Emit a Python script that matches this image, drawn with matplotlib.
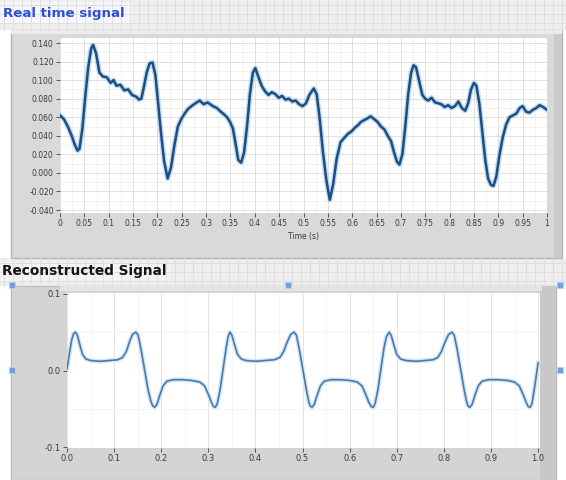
import matplotlib
matplotlib.use('Agg')
import matplotlib.pyplot as plt
from matplotlib.patches import Rectangle
from matplotlib.ticker import MultipleLocator, FuncFormatter

# real time signal
rt_time = [0.000, 0.008, 0.016, 0.024, 0.030, 0.036, 0.040, 0.046, 0.052, 0.058,
           0.064, 0.068, 0.074, 0.081, 0.088, 0.096, 0.104, 0.110, 0.116, 0.124,
           0.132, 0.140, 0.148, 0.157, 0.162, 0.167, 0.172, 0.178, 0.184, 0.190,
           0.196, 0.202, 0.208, 0.214, 0.221, 0.228, 0.235, 0.242, 0.249, 0.256,
           0.263, 0.270, 0.278, 0.287, 0.295, 0.303, 0.314, 0.322, 0.330, 0.337,
           0.343, 0.349, 0.355, 0.361, 0.366, 0.372, 0.378, 0.384, 0.390, 0.396,
           0.401, 0.407, 0.414, 0.421, 0.428, 0.435, 0.442, 0.449, 0.456, 0.463,
           0.470, 0.477, 0.484, 0.491, 0.498, 0.505, 0.512, 0.521, 0.527, 0.533,
           0.540, 0.547, 0.554, 0.561, 0.568, 0.576, 0.584, 0.591, 0.599, 0.606,
           0.611, 0.618, 0.625, 0.632, 0.638, 0.645, 0.652, 0.659, 0.666, 0.673,
           0.680, 0.686, 0.692, 0.697, 0.703, 0.709, 0.715, 0.721, 0.726, 0.731,
           0.737, 0.744, 0.750, 0.756, 0.763, 0.770, 0.777, 0.783, 0.790, 0.797,
           0.804, 0.811, 0.818, 0.825, 0.832, 0.838, 0.844, 0.850, 0.855, 0.861,
           0.867, 0.873, 0.879, 0.885, 0.890, 0.896, 0.902, 0.909, 0.916, 0.923,
           0.930, 0.937, 0.944, 0.950, 0.957, 0.964, 0.971, 0.978, 0.985, 0.992,
           1.000]
rt_value = [0.062, 0.058, 0.050, 0.040, 0.031, 0.024, 0.026, 0.048, 0.083, 0.114,
            0.134, 0.138, 0.129, 0.108, 0.104, 0.103, 0.097, 0.100, 0.094, 0.095,
            0.089, 0.090, 0.084, 0.082, 0.079, 0.080, 0.092, 0.108, 0.118, 0.119,
            0.105, 0.072, 0.040, 0.012, -0.006, 0.006, 0.030, 0.050, 0.058, 0.064,
            0.069, 0.072, 0.075, 0.078, 0.074, 0.076, 0.072, 0.070, 0.066, 0.063,
            0.060, 0.055, 0.048, 0.030, 0.014, 0.011, 0.022, 0.050, 0.085, 0.108,
            0.113, 0.104, 0.094, 0.088, 0.084, 0.087, 0.085, 0.081, 0.083, 0.079,
            0.080, 0.077, 0.078, 0.074, 0.072, 0.075, 0.084, 0.091, 0.085, 0.060,
            0.022, -0.008, -0.029, -0.012, 0.015, 0.033, 0.038, 0.042, 0.045, 0.049,
            0.051, 0.055, 0.057, 0.059, 0.061, 0.058, 0.055, 0.050, 0.047, 0.040,
            0.034, 0.022, 0.012, 0.009, 0.020, 0.050, 0.085, 0.108, 0.116, 0.114,
            0.100, 0.084, 0.080, 0.078, 0.081, 0.076, 0.075, 0.074, 0.071, 0.073,
            0.070, 0.072, 0.077, 0.070, 0.067, 0.075, 0.090, 0.097, 0.094, 0.075,
            0.045, 0.015, -0.006, -0.013, -0.014, -0.004, 0.018, 0.038, 0.052, 0.060,
            0.062, 0.064, 0.070, 0.072, 0.066, 0.065, 0.068, 0.070, 0.073, 0.071,
            0.068]

# reconstructed signal (bottom graph)
rc_time = [0.000, 0.005, 0.010, 0.014, 0.018, 0.022, 0.027, 0.033, 0.040, 0.050,
           0.070, 0.090, 0.108, 0.118, 0.126, 0.133, 0.139, 0.146, 0.151, 0.157,
           0.165, 0.172, 0.178, 0.182, 0.186, 0.191, 0.197, 0.204, 0.212, 0.225,
           0.245, 0.265, 0.282, 0.292, 0.300, 0.307, 0.311, 0.315, 0.319, 0.325,
           0.332, 0.338, 0.342, 0.346, 0.350, 0.356, 0.362, 0.370, 0.380, 0.400,
           0.420, 0.440, 0.452, 0.460, 0.468, 0.475, 0.482, 0.487, 0.493, 0.501,
           0.508, 0.513, 0.516, 0.520, 0.525, 0.531, 0.538, 0.546, 0.560, 0.580,
           0.600, 0.616, 0.626, 0.634, 0.641, 0.646, 0.650, 0.654, 0.660, 0.667,
           0.673, 0.678, 0.684, 0.688, 0.694, 0.700, 0.708, 0.720, 0.740, 0.760,
           0.777, 0.787, 0.795, 0.803, 0.810, 0.817, 0.822, 0.828, 0.836, 0.843,
           0.848, 0.851, 0.855, 0.860, 0.866, 0.873, 0.881, 0.895, 0.915, 0.935,
           0.950, 0.960, 0.968, 0.975, 0.979, 0.983, 0.987, 0.993, 1.000]
rc_value = [0.002, 0.022, 0.040, 0.048, 0.050, 0.046, 0.034, 0.021, 0.015, 0.013,
            0.012, 0.013, 0.014, 0.017, 0.025, 0.038, 0.047, 0.050, 0.046, 0.028,
            0.000, -0.025, -0.040, -0.046, -0.048, -0.044, -0.032, -0.020, -0.014, -0.012,
            -0.012, -0.013, -0.015, -0.020, -0.031, -0.042, -0.047, -0.048, -0.043, -0.025,
            0.005, 0.030, 0.044, 0.050, 0.046, 0.033, 0.021, 0.015, 0.013, 0.012,
            0.013, 0.014, 0.017, 0.025, 0.038, 0.047, 0.050, 0.046, 0.028, 0.000,
            -0.025, -0.040, -0.046, -0.048, -0.044, -0.032, -0.020, -0.014, -0.012, -0.012,
            -0.013, -0.015, -0.020, -0.031, -0.042, -0.047, -0.048, -0.043, -0.025, 0.005,
            0.030, 0.044, 0.050, 0.046, 0.033, 0.021, 0.015, 0.013, 0.012, 0.013,
            0.014, 0.017, 0.025, 0.038, 0.047, 0.050, 0.046, 0.028, 0.000, -0.025,
            -0.040, -0.046, -0.048, -0.044, -0.032, -0.020, -0.014, -0.012, -0.012, -0.013,
            -0.015, -0.020, -0.031, -0.042, -0.047, -0.048, -0.043, -0.020, 0.010]

rt_xticks = [0, 0.05, 0.1, 0.15, 0.2, 0.25, 0.3, 0.35, 0.4, 0.45, 0.5,
             0.55, 0.6, 0.65, 0.7, 0.75, 0.8, 0.85, 0.9, 0.95, 1]
rt_yticks = [-0.04, -0.02, 0.0, 0.02, 0.04, 0.06, 0.08, 0.1, 0.12, 0.14]
rc_xticks = [0.0, 0.1, 0.2, 0.3, 0.4, 0.5, 0.6, 0.7, 0.8, 0.9, 1.0]
rc_yticks = [-0.1, 0.0, 0.1]

W, H = 566, 480
fig = plt.figure(figsize=(W / 100, H / 100), dpi=100)
fig.patch.set_facecolor('white')


def box(x0, y0, x1, y1):
    # pixel box -> figure fraction [left, bottom, width, height]
    return [x0 / W, 1 - y1 / H, (x1 - x0) / W, (y1 - y0) / H]


# background: panels and the front-panel grid
bg = fig.add_axes([0, 0, 1, 1], zorder=-5)
bg.set_xlim(0, W)
bg.set_ylim(H, 0)
bg.axis('off')
for y0, y1 in [(0, 30), (258, 286)]:
    bg.add_patch(Rectangle((0, y0), W, y1 - y0, color='#eeeeee', lw=0))
    for gx in range(4, W, 9):
        bg.plot([gx, gx], [y0, y1], color='#dcdcdc', lw=0.6)
    for gy in range(y0 + 5, y1, 9):
        bg.plot([0, W], [gy, gy], color='#dcdcdc', lw=0.6)
bg.add_patch(Rectangle((0, 2), 132, 22, color='#f6f6fb', lw=0))
bg.add_patch(Rectangle((0, 262), 170, 20, color='#f3f3f3', lw=0))
# top panel
bg.add_patch(Rectangle((11, 30), 551, 228, facecolor='#d9d9d9', edgecolor='#b4b4b4', lw=1))
bg.add_patch(Rectangle((11, 30), 551, 4, color='#ececec', lw=0))
bg.add_patch(Rectangle((554, 34), 8, 224, color='#cacaca', lw=0))
# bottom panel
bg.add_patch(Rectangle((11, 286), 545, 194, facecolor='#d4d4d4', edgecolor='#bdbdbd', lw=1))
bg.add_patch(Rectangle((540, 286), 16, 194, color='#c8c8c8', lw=0))
bg.add_patch(Rectangle((60, 286), 482, 5, color='#e4e4e4', lw=0))
# selection handles
bg.scatter([12, 288, 560, 12, 560], [285, 285, 285, 370, 370], s=14,
           marker='s', color='#6f9fd8', edgecolor='#b5d0f0', lw=0.8, zorder=3)

fig.text(3 / W, 1 - 13 / H, 'Real time signal', color='#2e4fd8',
         fontsize=9.6, fontweight='bold', va='center', ha='left')
fig.text(2 / W, 1 - 271 / H, 'Reconstructed Signal', color='#151515',
         fontsize=9.8, fontweight='bold', va='center', ha='left')

tick_col = '#3a3a3a'


def style(ax):
    ax.set_facecolor('white')
    for s in ax.spines.values():
        s.set_visible(False)
    ax.tick_params(axis='both', which='major', direction='out', length=3,
                   width=0.7, color='#555555', labelsize=5.5, labelcolor=tick_col, pad=1.5)
    ax.tick_params(axis='both', which='minor', length=0)
    ax.set_axisbelow(True)


# top graph
ax1 = fig.add_axes(box(60, 38, 547, 213))
style(ax1)
ax1.set_xlim(0, 1.0)
ax1.set_ylim(-0.0432, 0.1454)
ax1.set_xticks(rt_xticks)
ax1.set_xticklabels([('%g' % v) for v in rt_xticks])
ax1.set_yticks(rt_yticks)
ax1.yaxis.set_major_formatter(FuncFormatter(lambda v, p: '%.3f' % v))
ax1.xaxis.set_minor_locator(MultipleLocator(0.025))
ax1.yaxis.set_minor_locator(MultipleLocator(0.01))
ax1.grid(True, which='major', color='#dcdcdc', lw=0.6)
ax1.grid(True, which='minor', color='#f1ebe4', lw=0.5)
ax1.set_xlabel('Time (s)', fontsize=5.5, color=tick_col, labelpad=3)
ax1.plot(rt_time, rt_value, color='#a9cdee', lw=3.8, alpha=0.7, solid_joinstyle='round')
ax1.plot(rt_time, rt_value, color='#1d4f7e', lw=1.8, solid_joinstyle='round')

# bottom graph
ax2 = fig.add_axes(box(67, 293, 540, 448))
style(ax2)
ax2.set_xlim(0, 1.004)
ax2.set_ylim(-0.101, 0.101)
ax2.set_xticks(rc_xticks)
ax2.set_xticklabels(['%.1f' % v for v in rc_xticks])
ax2.set_yticks(rc_yticks)
ax2.set_yticklabels(['-0.1', '0.0', '0.1'])
ax2.xaxis.set_minor_locator(MultipleLocator(0.05))
ax2.yaxis.set_minor_locator(MultipleLocator(0.05))
ax2.grid(True, which='major', axis='x', color='#dedede', lw=0.6)
ax2.grid(True, which='minor', color='#f2f2f2', lw=0.5)
ax2.tick_params(axis='x', labelsize=6, pad=1)
ax2.tick_params(axis='y', labelsize=6)
ax2.plot(rc_time, rc_value, color='#d3e6f7', lw=3.2, solid_joinstyle='round')
ax2.plot(rc_time, rc_value, color='#4c79a6', lw=1.2, solid_joinstyle='round')

fig.savefig('out.png', dpi=100)
